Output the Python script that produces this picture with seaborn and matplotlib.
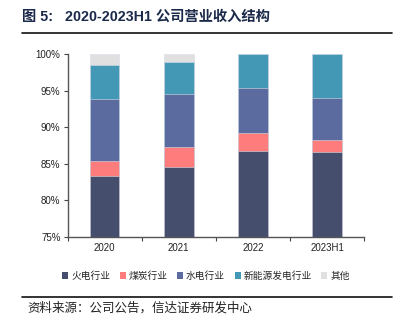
import matplotlib
matplotlib.use("Agg")
import matplotlib.pyplot as plt
import seaborn as sns
import pandas as pd
import numpy as np
from matplotlib.patches import Patch
from matplotlib.lines import Line2D

categories = ["2020", "2021", "2022", "2023H1"]
series_names = ["火电行业", "煤炭行业", "水电行业", "新能源发电行业", "其他"]
thermal = [83.4, 84.6, 86.8, 86.6]
coal = [2.0, 2.7, 2.45, 1.65]
hydro = [8.5, 7.3, 6.05, 5.75]
new_energy = [4.6, 4.3, 4.7, 6.0]
other = [1.5, 1.1, 0.0, 0.0]
yticks = [75, 80, 85, 90, 95, 100]
colors = ["#464e6e", "#ff7c7c", "#5b6b9f", "#4298b5", "#e0e0e0"]

sns.set_theme(style="white")
plt.rcParams["font.family"] = ["Liberation Sans", "Noto Sans CJK SC", "DejaVu Sans"]

fig = plt.figure(figsize=(3.95, 3.27), dpi=100)
ax = fig.add_axes([0.171, 0.275, 0.751, 0.560])

series = [thermal, coal, hydro, new_energy, other]
cum = np.cumsum(np.array(series), axis=0)
# draw from top (largest cumulative) down so each layer overlays
for i in range(len(series) - 1, -1, -1):
    df = pd.DataFrame({"cat": categories, "val": cum[i]})
    sns.barplot(data=df, x="cat", y="val", color=colors[i], width=0.4,
                edgecolor="#d8dde8", linewidth=0.4, ax=ax, saturation=1)

ax.set_ylim(75, 100)
ax.set_xlim(-0.5, 3.5)
ax.set_yticks(yticks)
ax.set_yticklabels([f"{t}%" for t in yticks], fontsize=7, color="#222222")
ax.set_xticks(range(len(categories)))
ax.set_xticklabels(categories, fontsize=7, color="#222222")
ax.set_xticks([-0.5, 0.5, 1.5, 2.5, 3.5], minor=True)
ax.tick_params(axis="x", which="major", length=0, pad=4)
ax.tick_params(axis="x", which="minor", length=3, width=0.8, color="#444444", bottom=True, direction="out")
ax.tick_params(axis="y", which="major", length=3, width=0.8, color="#444444", left=True, direction="out", pad=2)
ax.set_xlabel("")
ax.set_ylabel("")
for s in ["top", "right"]:
    ax.spines[s].set_visible(False)
for s in ["left", "bottom"]:
    ax.spines[s].set_color("#555555")
    ax.spines[s].set_linewidth(1.0)

handles = [Patch(facecolor=c, edgecolor="none") for c in colors]
fig.legend(handles, series_names, loc="center", bbox_to_anchor=(206 / 395, 1 - 276 / 327),
           ncol=5, frameon=False, fontsize=7, handlelength=0.6, handleheight=0.6,
           handletextpad=0.3, columnspacing=1.0)

fig.text(22 / 395, 1 - 17 / 327, "图 5:   2020-2023H1 公司营业收入结构", fontsize=10.3,
         fontweight="bold", color="#1b2a4a", va="center", ha="left")
fig.add_artist(Line2D([22 / 395, 392 / 395], [1 - 33 / 327, 1 - 33 / 327], color="#111111", linewidth=1.2))
fig.add_artist(Line2D([22 / 395, 392 / 395], [1 - 297 / 327, 1 - 297 / 327], color="#111111", linewidth=1.2))
fig.text(27 / 395, 1 - 308 / 327, "资料来源：公司公告，信达证券研发中心", fontsize=9,
         fontstyle="italic", fontweight="light", color="#222222", va="center", ha="left")

fig.savefig("out.png", dpi=100)
